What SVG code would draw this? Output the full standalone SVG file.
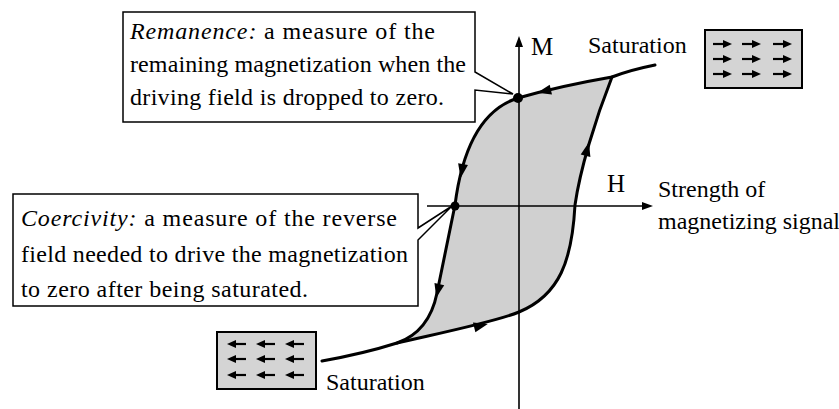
<svg xmlns="http://www.w3.org/2000/svg" width="839" height="409" viewBox="0 0 839 409" font-family="'Liberation Serif', 'Times New Roman', Tinos, Times, 'Nimbus Roman', serif">
<style>
text{font-family:'Liberation Serif','Times New Roman',Tinos,Times,'Nimbus Roman',serif;font-size:24px;fill:#000}
.i{font-style:italic}
.sat{fill:#d4d4d4;stroke:#000;stroke-width:2}
.axis{stroke:#000;stroke-width:1.6;fill:none}
.loop{stroke:#000;stroke-width:3;fill:none;stroke-linejoin:round;stroke-linecap:round}
.ptr{stroke:#000;stroke-width:1.5;fill:#fff;stroke-linejoin:miter}
</style>
<defs>
<path id="ah" d="M 8 0 L -6 -5 L -6 5 Z" fill="#000"/>
<g id="ar">
<line x1="-9" y1="0" x2="4" y2="0" stroke="#000" stroke-width="2.2"/>
<path d="M 10 0 L 1 -4 L 1 4 Z" fill="#000"/>
</g>
</defs>
<rect width="839" height="409" fill="#fff"/>

<g id="loop-fill">
<path d="M 612 77 Q 560 86 518 98 C 480 110 462 150 455 205 L 437 293 C 432 318 420 335 397 343 C 440 333 495 322 519 312 C 560 295 572 260 575 205 C 580 170 595 120 612 77 Z" fill="#d0d0d0" stroke="none"/>
</g>

<g id="axes">
<line class="axis" x1="519" y1="44" x2="519" y2="409"/>
<path d="M 519 36 L 515 47 L 523 47 Z" fill="#000"/>
<line class="axis" x1="427" y1="206" x2="644" y2="206"/>
<path d="M 653 206 L 642 202 L 642 210 Z" fill="#000"/>
<text x="531" y="55" style="font-size:25px">M</text>
<text x="607" y="192" style="font-size:25px">H</text>
</g>

<g id="connectors">
<path class="loop" d="M 655 65 Q 630 70 612 77 Q 560 86 518 98 C 480 110 462 150 455 205 L 437 293 C 432 318 420 335 397 343 C 375 350 350 356 322 361"/>
<path class="loop" d="M 397 343 C 440 333 495 322 519 312 C 560 295 572 260 575 205 C 580 170 595 120 612 77"/>
<use href="#ah" transform="translate(545,91) rotate(167)"/>
<use href="#ah" transform="translate(462,170) rotate(100)"/>
<use href="#ah" transform="translate(438,290) rotate(103)"/>
<use href="#ah" transform="translate(480,326) rotate(-14)"/>
<use href="#ah" transform="translate(587,150) rotate(-76)"/>
<circle cx="518" cy="98" r="5" fill="#000"/>
<circle cx="455" cy="206" r="4.5" fill="#000"/>
</g>

<g id="remanence">
<path class="ptr" d="M 123 12 L 475 12 L 475 72 L 513 94 L 475 90 L 475 122 L 123 122 Z"/>
<text x="130" y="39" textLength="305"><tspan class="i">Remanence:</tspan> a measure of the</text>
<text x="130" y="72" textLength="336">remaining magnetization when the</text>
<text x="130" y="105" textLength="314">driving field is dropped to zero.</text>
</g>

<g id="coercivity">
<path class="ptr" d="M 13 194 L 418 194 L 418 228 L 452 206 L 418 240 L 418 306 L 13 306 Z"/>
<text x="21" y="226" textLength="376"><tspan class="i">Coercivity:</tspan> a measure of the reverse</text>
<text x="21" y="262" textLength="387">field needed to drive the magnetization</text>
<text x="21" y="297" textLength="287">to zero after being saturated.</text>
</g>

<g id="sat-top">
<text x="588" y="53">Saturation</text>
<rect class="sat" x="705" y="30" width="97" height="58"/>
<use href="#ar" transform="translate(722,44)"/>
<use href="#ar" transform="translate(751,44)"/>
<use href="#ar" transform="translate(782,44)"/>
<use href="#ar" transform="translate(722,59)"/>
<use href="#ar" transform="translate(751,59)"/>
<use href="#ar" transform="translate(782,59)"/>
<use href="#ar" transform="translate(722,74)"/>
<use href="#ar" transform="translate(751,74)"/>
<use href="#ar" transform="translate(782,74)"/>
</g>

<g id="sat-bottom">
<rect class="sat" x="217" y="332" width="99" height="57"/>
<use href="#ar" transform="translate(237,344) rotate(180)"/>
<use href="#ar" transform="translate(266,344) rotate(180)"/>
<use href="#ar" transform="translate(295,344) rotate(180)"/>
<use href="#ar" transform="translate(237,359) rotate(180)"/>
<use href="#ar" transform="translate(266,359) rotate(180)"/>
<use href="#ar" transform="translate(295,359) rotate(180)"/>
<use href="#ar" transform="translate(237,375) rotate(180)"/>
<use href="#ar" transform="translate(266,375) rotate(180)"/>
<use href="#ar" transform="translate(295,375) rotate(180)"/>
<text x="326" y="390">Saturation</text>
</g>

<g id="h-label">
<text x="658" y="197">Strength of</text>
<text x="658" y="229">magnetizing signal</text>
</g>
</svg>
